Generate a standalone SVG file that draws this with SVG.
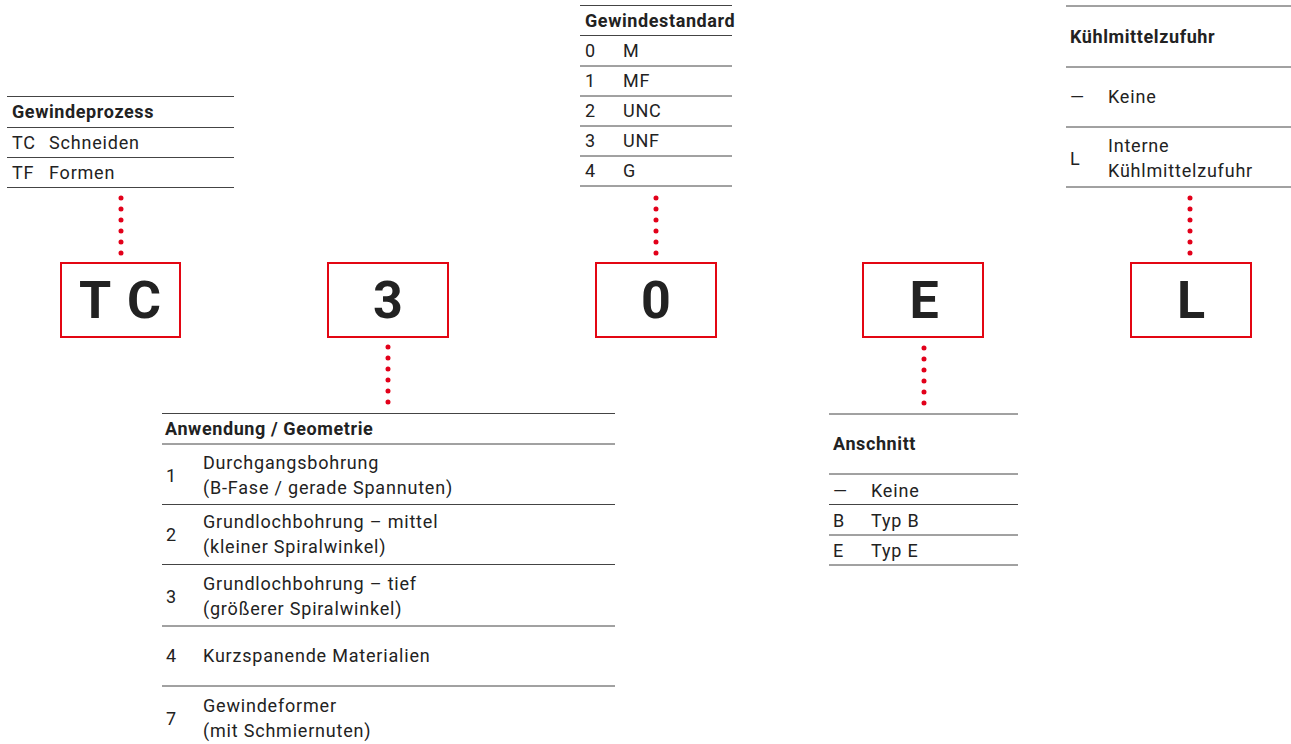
<svg xmlns="http://www.w3.org/2000/svg" width="1291" height="744" viewBox="0 0 1291 744">
<style>
text{font-family:Roboto,"Liberation Sans",sans-serif;fill:#222}
.t{font-size:18px;letter-spacing:0.8px}
.h{font-size:18px;font-weight:bold;letter-spacing:0.6px}
.big{font-size:52px;font-weight:bold;text-anchor:middle}
.r{stroke:#444;stroke-width:1;fill:none}
.box{fill:#fff;stroke:#e30613;stroke-width:2}
.dots{stroke:#e2001a;stroke-width:5;stroke-linecap:round;stroke-dasharray:0 11;fill:none}
</style>
<rect width="1291" height="744" fill="#fff"/>

<g id="connectors">
<line class="dots" x1="121" y1="198" x2="121" y2="254"/>
<line class="dots" x1="656" y1="198" x2="656" y2="254"/>
<line class="dots" x1="1190" y1="198" x2="1190" y2="254"/>
<line class="dots" x1="388" y1="347" x2="388" y2="403"/>
<line class="dots" x1="924" y1="348" x2="924" y2="404"/>
</g>

<g id="box-tc"><rect class="box" x="61" y="263" width="119" height="74"/><text class="big" x="121" y="318" letter-spacing="2">T C</text></g>
<g id="box-3"><rect class="box" x="328" y="263" width="120" height="74"/><text class="big" x="388" y="318">3</text></g>
<g id="box-0"><rect class="box" x="596" y="263" width="120" height="74"/><text class="big" x="656" y="318">0</text></g>
<g id="box-e"><rect class="box" x="863" y="263" width="120" height="74"/><text class="big" x="924" y="318">E</text></g>
<g id="box-l"><rect class="box" x="1131" y="263" width="120" height="74"/><text class="big" x="1191" y="318">L</text></g>

<g id="table-gewindeprozess">
<line class="r" x1="7" y1="96.5" x2="234" y2="96.5"/>
<text class="h" x="12" y="118">Gewindeprozess</text>
<line class="r" x1="7" y1="127.5" x2="234" y2="127.5"/>
<text class="t" x="12" y="149">TC</text><text class="t" x="49" y="149">Schneiden</text>
<line class="r" x1="7" y1="157.5" x2="234" y2="157.5"/>
<text class="t" x="12" y="179">TF</text><text class="t" x="49" y="179">Formen</text>
<line class="r" x1="7" y1="187.5" x2="234" y2="187.5"/>
</g>

<g id="table-gewindestandard">
<line class="r" x1="580" y1="5.5" x2="732" y2="5.5"/>
<text class="h" x="585" y="27" letter-spacing="0.1">Gewindestandard</text>
<line class="r" x1="580" y1="35.5" x2="732" y2="35.5"/>
<text class="t" x="585" y="57">0</text><text class="t" x="623" y="57">M</text>
<line class="r" x1="580" y1="66" x2="732" y2="66"/>
<text class="t" x="585" y="87">1</text><text class="t" x="623" y="87">MF</text>
<line class="r" x1="580" y1="96" x2="732" y2="96"/>
<text class="t" x="585" y="117">2</text><text class="t" x="623" y="117">UNC</text>
<line class="r" x1="580" y1="126" x2="732" y2="126"/>
<text class="t" x="585" y="147">3</text><text class="t" x="623" y="147">UNF</text>
<line class="r" x1="580" y1="156" x2="732" y2="156"/>
<text class="t" x="585" y="177">4</text><text class="t" x="623" y="177">G</text>
<line class="r" x1="580" y1="186" x2="732" y2="186"/>
</g>

<g id="table-kuehlmittel">
<line class="r" x1="1066" y1="6" x2="1291" y2="6"/>
<text class="h" x="1070" y="43">Kühlmittelzufuhr</text>
<line class="r" x1="1066" y1="67" x2="1291" y2="67"/>
<text class="t" x="1070" y="103">—</text><text class="t" x="1108" y="103">Keine</text>
<line class="r" x1="1066" y1="127" x2="1291" y2="127"/>
<text class="t" x="1070" y="165">L</text>
<text class="t" x="1108" y="152">Interne</text>
<text class="t" x="1108" y="177">Kühlmittelzufuhr</text>
<line class="r" x1="1066" y1="187" x2="1291" y2="187"/>
</g>

<g id="table-anwendung">
<line class="r" x1="162" y1="413.5" x2="615" y2="413.5"/>
<text class="h" x="165" y="435">Anwendung / Geometrie</text>
<line class="r" x1="162" y1="444" x2="615" y2="444"/>
<text class="t" x="166" y="482">1</text>
<text class="t" x="203" y="469">Durchgangsbohrung</text>
<text class="t" x="203" y="494">(B-Fase / gerade Spannuten)</text>
<line class="r" x1="162" y1="504.5" x2="615" y2="504.5"/>
<text class="t" x="166" y="541">2</text>
<text class="t" x="203" y="528">Grundlochbohrung – mittel</text>
<text class="t" x="203" y="553">(kleiner Spiralwinkel)</text>
<line class="r" x1="162" y1="564.5" x2="615" y2="564.5"/>
<text class="t" x="166" y="603">3</text>
<text class="t" x="203" y="590">Grundlochbohrung – tief</text>
<text class="t" x="203" y="615">(größerer Spiralwinkel)</text>
<line class="r" x1="162" y1="626" x2="615" y2="626"/>
<text class="t" x="166" y="662">4</text>
<text class="t" x="203" y="662">Kurzspanende Materialien</text>
<line class="r" x1="162" y1="686" x2="615" y2="686"/>
<text class="t" x="166" y="725">7</text>
<text class="t" x="203" y="712">Gewindeformer</text>
<text class="t" x="203" y="737">(mit Schmiernuten)</text>
</g>

<g id="table-anschnitt">
<line class="r" x1="829" y1="414" x2="1018" y2="414"/>
<text class="h" x="833" y="450">Anschnitt</text>
<line class="r" x1="829" y1="474" x2="1018" y2="474"/>
<text class="t" x="833" y="497">—</text><text class="t" x="871" y="497">Keine</text>
<line class="r" x1="829" y1="504.5" x2="1018" y2="504.5"/>
<text class="t" x="833" y="527">B</text><text class="t" x="871" y="527">Typ B</text>
<line class="r" x1="829" y1="535" x2="1018" y2="535"/>
<text class="t" x="833" y="557">E</text><text class="t" x="871" y="557">Typ E</text>
<line class="r" x1="829" y1="565" x2="1018" y2="565"/>
</g>
</svg>
